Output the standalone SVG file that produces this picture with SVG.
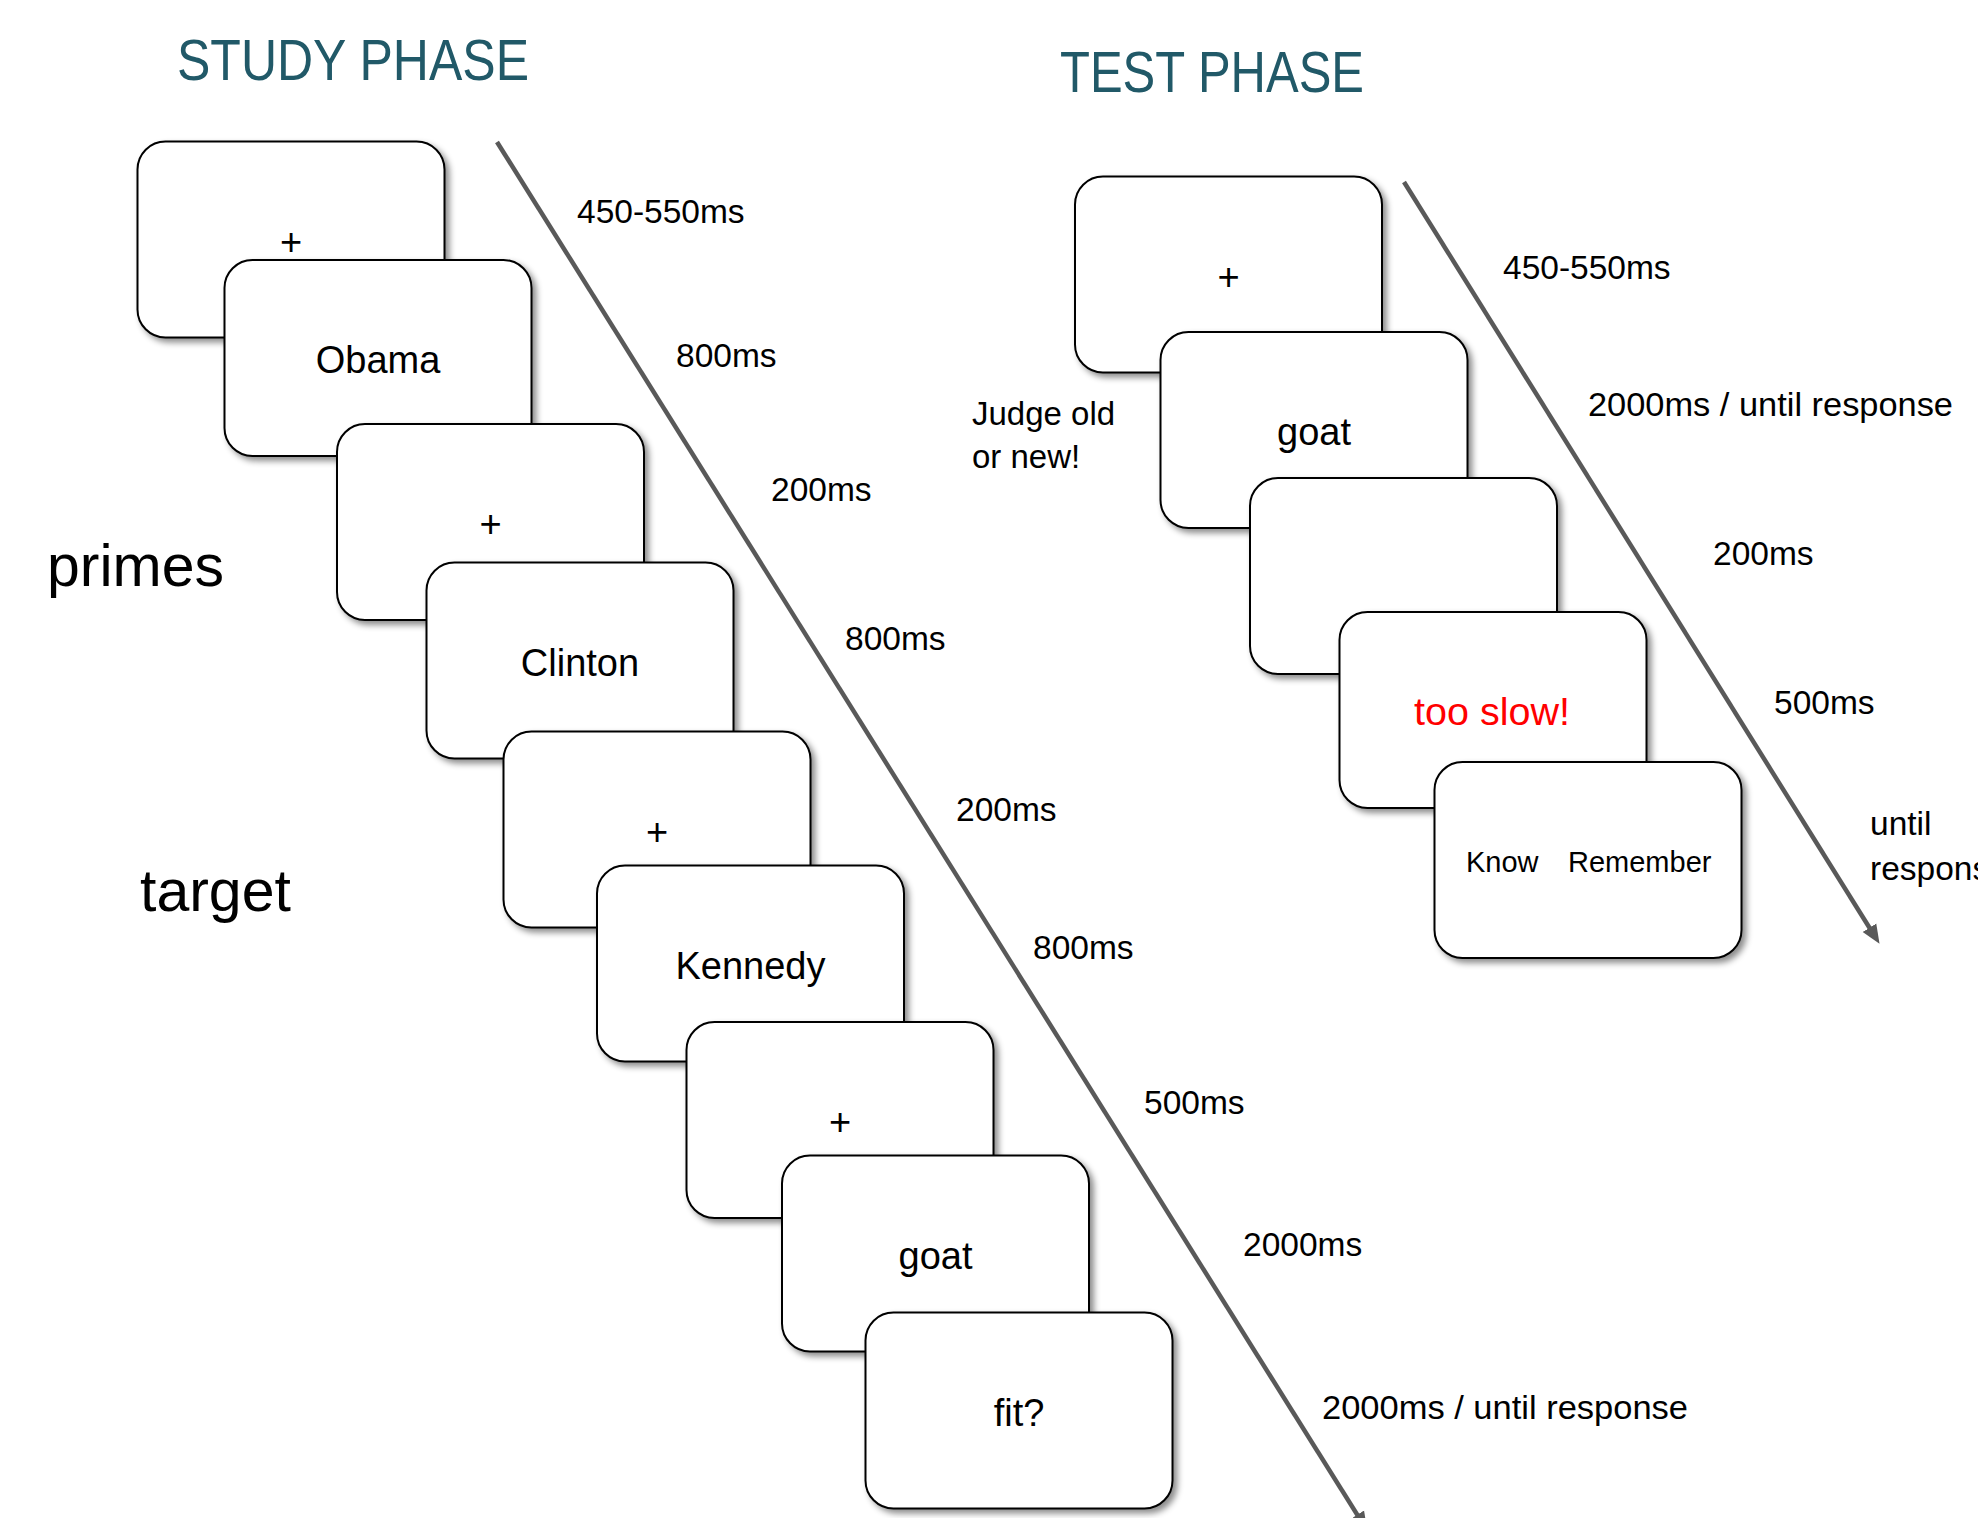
<svg xmlns="http://www.w3.org/2000/svg" width="1978" height="1518" viewBox="0 0 1978 1518">
<style>
  .card { fill: #ffffff; stroke: #000000; stroke-width: 2; filter: url(#shadow); }
  .word { font-family: "Liberation Sans", Arial, sans-serif; font-size: 38px; fill: #000000; text-anchor: middle; }
  .small { font-family: "Liberation Sans", Arial, sans-serif; font-size: 29px; fill: #000000; }
  .lbl { font-family: "Liberation Sans", Arial, sans-serif; font-size: 33.5px; fill: #000000; }
  .side { font-family: "Liberation Sans", Arial, sans-serif; font-size: 59px; fill: #000000; }
  .title { font-family: "Liberation Sans", Arial, sans-serif; font-size: 57px; fill: #215968; }
  .time { fill: none; stroke: #595959; stroke-width: 4.5; marker-end: url(#arrow); }
</style>
<defs>
  <filter id="shadow" x="-10%" y="-10%" width="125%" height="125%">
    <feDropShadow dx="4" dy="4" stdDeviation="3" flood-color="#000000" flood-opacity="0.45"/>
  </filter>
  <marker id="arrow" markerUnits="userSpaceOnUse" markerWidth="20" markerHeight="18" refX="8" refY="9" orient="auto">
    <path d="M0,1 L19,9 L0,17 Z" fill="#595959"/>
  </marker>
</defs>
<rect width="1978" height="1518" fill="#ffffff"/>

<g id="titles">
  <text class="title" x="177" y="80" textLength="352" lengthAdjust="spacingAndGlyphs">STUDY PHASE</text>
  <text class="title" x="1060" y="92" textLength="304" lengthAdjust="spacingAndGlyphs">TEST PHASE</text>
</g>

<g id="side-labels">
  <text class="side" x="47" y="586">primes</text>
  <text class="side" x="140" y="911">target</text>
  <text class="lbl" x="972" y="425" style="font-size:33px">Judge old</text>
  <text class="lbl" x="972" y="468" style="font-size:33px">or new!</text>
</g>

<g id="connectors">
  <path id="study-timeline" class="time" d="M497,142 L1361.5,1521.5"/>
  <path id="test-timeline" class="time" d="M1404,182 L1873.7,934.5"/>
</g>

<g id="study-s1"><rect class="card" x="137.5" y="141.5" width="307" height="196" rx="28"/><text class="word" x="291" y="254.5">+</text></g>
<g id="study-s2"><rect class="card" x="224.5" y="260" width="307" height="196" rx="28"/><text class="word" x="378" y="373">Obama</text></g>
<g id="study-s3"><rect class="card" x="337" y="424" width="307" height="196" rx="28"/><text class="word" x="490.5" y="537">+</text></g>
<g id="study-s4"><rect class="card" x="426.5" y="562.5" width="307" height="196" rx="28"/><text class="word" x="580" y="675.5">Clinton</text></g>
<g id="study-s5"><rect class="card" x="503.5" y="731.5" width="307" height="196" rx="28"/><text class="word" x="657" y="844.5">+</text></g>
<g id="study-s6"><rect class="card" x="597" y="865.5" width="307" height="196" rx="28"/><text class="word" x="750.5" y="978.5">Kennedy</text></g>
<g id="study-s7"><rect class="card" x="686.5" y="1022" width="307" height="196" rx="28"/><text class="word" x="840" y="1135">+</text></g>
<g id="study-s8"><rect class="card" x="782" y="1155.5" width="307" height="196" rx="28"/><text class="word" x="935.5" y="1268.5">goat</text></g>
<g id="study-s9"><rect class="card" x="865.5" y="1312.5" width="307" height="196" rx="28"/><text class="word" x="1019" y="1425.5">fit?</text></g>

<g id="test-t1"><rect class="card" x="1075" y="176.5" width="307" height="196" rx="28"/><text class="word" x="1228.5" y="289.5">+</text></g>
<g id="test-t2"><rect class="card" x="1160.5" y="332" width="307" height="196" rx="28"/><text class="word" x="1314" y="445">goat</text></g>
<g id="test-t3"><rect class="card" x="1250" y="478" width="307" height="196" rx="28"/></g>
<g id="test-t4"><rect class="card" x="1339.5" y="612" width="307" height="196" rx="28"/><text class="word" x="1492" y="725" style="fill:#ff0000;font-size:39.5px">too slow!</text></g>
<g id="test-t5"><rect class="card" x="1434.5" y="762" width="307" height="196" rx="28"/><text class="small" x="1466" y="872">Know</text><text class="small" x="1568" y="872">Remember</text></g>

<g id="timing-labels">
  <text class="lbl" x="577" y="223">450-550ms</text>
  <text class="lbl" x="676" y="367">800ms</text>
  <text class="lbl" x="771" y="501">200ms</text>
  <text class="lbl" x="845" y="650">800ms</text>
  <text class="lbl" x="956" y="821">200ms</text>
  <text class="lbl" x="1033" y="959">800ms</text>
  <text class="lbl" x="1144" y="1114">500ms</text>
  <text class="lbl" x="1243" y="1256">2000ms</text>
  <text class="lbl" x="1322" y="1419" textLength="366" lengthAdjust="spacingAndGlyphs">2000ms / until response</text>
  <text class="lbl" x="1503" y="279">450-550ms</text>
  <text class="lbl" x="1588" y="416" textLength="365" lengthAdjust="spacingAndGlyphs">2000ms / until response</text>
  <text class="lbl" x="1713" y="565">200ms</text>
  <text class="lbl" x="1774" y="714">500ms</text>
  <text class="lbl" x="1870" y="835">until</text>
  <text class="lbl" x="1870" y="880">response</text>
</g>
</svg>
